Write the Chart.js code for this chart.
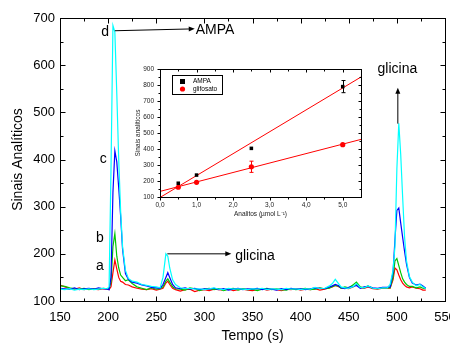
<!DOCTYPE html>
<html lang="pt">
<head>
<meta charset="UTF-8">
<title>Sinais Analíticos x Tempo</title>
<script src="https://cdn.jsdelivr.net/npm/chart.js@4"></script>
<style>
body { margin: 0; background: #fff; }
#wrap { position: relative; width: 450px; height: 343px; }
#main { position: absolute; left: 0; top: 0; }
#inset { position: absolute; left: 130px; top: 60px; }
</style>
</head>
<body>
<div id="wrap">
    <canvas id="main" width="450" height="343"></canvas>
    <canvas id="inset" width="240" height="162"></canvas>
</div>
<script>
// ---- dados do eletroferograma ----
const tempo = [150,155,160,165,170,175,180,185,190,195,
    199,201,203,205,207,209,211,213,215,218,
    221,225,230,235,240,245,250,254,257,260,
    262,264,267,270,275,280,285,290,295,300,
    305,310,315,320,325,330,335,340,345,350,
    355,360,365,370,375,380,385,390,395,400,
    405,410,415,420,425,430,433,436,439,442,
    446,450,455,458,462,466,470,475,480,485,
    490,493,496,498,500,502,504,506,508,510,
    513,516,520,524,527,530];

const sinalA = [134,130,127,125,128,124,126,125,124,126,
    125,124,130,160,187,168,150,142,140,135,
    134,130,127,125,124,126,123,125,127,138,
    142,135,127,124,121,124,125,120,123,124,
    122,125,124,123,126,122,124,125,123,122,
    124,126,123,125,124,122,125,124,126,123,
    125,124,126,123,125,128,130,133,131,128,
    127,126,130,135,128,127,130,126,125,127,
    127,127,145,170,166,155,145,138,133,130,
    128,130,127,126,123,123];

const sinalB = [132,131,128,126,125,127,124,126,125,127,
    126,126,140,215,243,195,170,155,150,143,
    145,137,130,127,124,128,125,126,130,142,
    147,140,130,126,125,123,128,126,122,125,
    127,124,126,122,125,127,123,126,124,125,
    122,125,127,124,126,124,123,126,124,125,
    127,124,125,128,126,127,131,133,132,127,
    130,128,135,140,130,128,132,127,126,128,
    128,128,150,185,190,175,160,147,140,135,
    131,131,128,130,127,126];

const sinalC = [127,126,125,128,124,126,127,125,128,126,
    125,124,150,330,418,395,340,280,210,158,
    146,140,138,134,132,129,128,127,135,150,
    160,150,135,128,126,128,125,127,124,126,
    125,127,124,126,123,125,127,124,126,125,
    127,124,126,125,123,126,124,127,125,126,
    124,126,128,127,126,130,132,135,133,128,
    126,129,131,133,127,130,131,128,127,129,
    129,130,160,230,292,297,265,235,205,178,
    150,138,134,136,132,127];

const sinalD = [125,124,126,123,125,124,126,124,125,127,
    126,130,380,684,670,540,400,290,215,165,
    148,142,140,135,133,131,130,128,150,200,
    195,170,145,135,128,126,127,125,126,124,
    126,128,125,124,127,125,126,125,124,126,
    125,127,124,126,125,124,127,125,126,124,
    126,125,129,126,127,132,137,146,138,130,
    128,127,131,137,129,128,132,127,126,128,
    128,135,165,215,380,477,410,320,235,185,
    152,140,132,135,130,126];

// letras das curvas e setas (em coordenadas de dados)
const letras = [
    { t: 'd', x: 197, y: 670 },
    { t: 'c', x: 195, y: 400 },
    { t: 'b', x: 191.5, y: 233 },
    { t: 'a', x: 191.5, y: 173 }
];
const setas = [
    { x1: 207, y1: 673, x2: 290, y2: 677 },
    { x1: 261.5, y1: 200, x2: 328, y2: 200 },
    { x1: 501, y1: 476, x2: 501, y2: 552 }
];
const rotulos = [
    { t: 'AMPA', x: 291, y: 675, align: 'left' },
    { t: 'glicina', x: 332, y: 196, align: 'left' },
    { t: 'glicina', x: 500.5, y: 592, align: 'center' }
];

// ---- dados da curva analítica (inserto) ----
const conc = [0.5, 1.0, 2.5, 5.0];
const ampa = [186, 237, 404, 790];
const ampaErro = [0, 0, 0, 38];
const glifosato = [161, 192, 289, 427];
const glifosatoErro = [0, 0, 35, 0];
const ajusteX = [0, 5.5];
const ajusteAmpa = [97, 850];
const ajusteGlif = [135, 460];

const FONT = "'Liberation Sans', Arial, sans-serif";
Chart.defaults.font.family = FONT;
Chart.defaults.color = '#000';

const pts = (xs, ys) => xs.map((v, i) => ({ x: v, y: ys[i] }));

// moldura com marcas de escala (maiores e menores)
const frameTicks = {
    id: 'frameTicks',
    afterDraw(chart, args, o) {
        const { ctx, chartArea: a, scales: { x, y } } = chart;
        const marks = vals => {
            const out = [];
            vals.forEach((v, i) => {
                out.push([v, o.major]);
                if (i < vals.length - 1) out.push([(v + vals[i + 1]) / 2, o.minor]);
            });
            return out;
        };
        const s = o.out ? 1 : -1;
        ctx.save();
        ctx.strokeStyle = '#000';
        ctx.lineWidth = 1;
        ctx.strokeRect(a.left + 0.5, a.top + 0.5, a.right - a.left, a.bottom - a.top);
        ctx.beginPath();
        marks(x.ticks.map(t => t.value)).forEach(([v, len]) => {
            const p = Math.round(x.getPixelForValue(v)) + 0.5;
            ctx.moveTo(p, a.bottom + 0.5); ctx.lineTo(p, a.bottom + 0.5 + s * len);
            ctx.moveTo(p, a.top + 0.5); ctx.lineTo(p, a.top + 0.5 + len);
        });
        marks(y.ticks.map(t => t.value)).forEach(([v, len]) => {
            const p = Math.round(y.getPixelForValue(v)) + 0.5;
            ctx.moveTo(a.left + 0.5, p); ctx.lineTo(a.left + 0.5 - s * len, p);
            ctx.moveTo(a.right + 0.5, p); ctx.lineTo(a.right + 0.5 - len, p);
        });
        ctx.stroke();
        ctx.restore();
    }
};

function seta(ctx, x1, y1, x2, y2) {
    const ang = Math.atan2(y2 - y1, x2 - x1);
    ctx.beginPath();
    ctx.moveTo(x1, y1);
    ctx.lineTo(x2 - 5 * Math.cos(ang), y2 - 5 * Math.sin(ang));
    ctx.stroke();
    ctx.beginPath();
    ctx.moveTo(x2, y2);
    ctx.lineTo(x2 - 6 * Math.cos(ang) + 2.5 * Math.sin(ang), y2 - 6 * Math.sin(ang) - 2.5 * Math.cos(ang));
    ctx.lineTo(x2 - 6 * Math.cos(ang) - 2.5 * Math.sin(ang), y2 - 6 * Math.sin(ang) + 2.5 * Math.cos(ang));
    ctx.closePath();
    ctx.fill();
}

const anotacoes = {
    id: 'anotacoes',
    afterDatasetsDraw(chart) {
        const { ctx, scales: { x, y } } = chart;
        ctx.save();
        ctx.fillStyle = '#000';
        ctx.strokeStyle = '#000';
        ctx.lineWidth = 1;
        ctx.font = '14px ' + FONT;
        ctx.textBaseline = 'middle';
        ctx.textAlign = 'center';
        letras.forEach(l => ctx.fillText(l.t, x.getPixelForValue(l.x), y.getPixelForValue(l.y)));
        setas.forEach(s => seta(ctx, x.getPixelForValue(s.x1), y.getPixelForValue(s.y1),
            x.getPixelForValue(s.x2), y.getPixelForValue(s.y2)));
        rotulos.forEach(r => {
            ctx.textAlign = r.align;
            ctx.fillText(r.t, x.getPixelForValue(r.x), y.getPixelForValue(r.y));
        });
        ctx.restore();
    }
};

function serie(label, data, cor) {
    return {
        label: label,
        data: pts(tempo, data),
        borderColor: cor,
        borderWidth: 1.2,
        pointRadius: 0,
        tension: 0
    };
}

new Chart(document.getElementById('main'), {
    type: 'line',
    data: {
        datasets: [
            serie('d', sinalD, '#00ffff'),
            serie('c', sinalC, '#0000ff'),
            serie('b', sinalB, '#00c800'),
            serie('a', sinalA, '#ff0000')
        ]
    },
    options: {
        responsive: false,
        animation: false,
        devicePixelRatio: 1,
        layout: { padding: { top: 18, right: 5, left: 0, bottom: 0 } },
        plugins: { legend: { display: false }, tooltip: { enabled: false }, frameTicks: { out: false, major: 5, minor: 3 } },
        scales: {
            x: {
                type: 'linear', min: 150, max: 550,
                grid: { display: false, drawTicks: false },
                border: { display: false },
                ticks: { stepSize: 50, padding: 9, font: { size: 13 }, maxRotation: 0 },
                title: { display: true, text: 'Tempo (s)', font: { size: 14 }, padding: { top: 0, bottom: -2 } },
                afterFit: s => { s.height = 42; s.paddingLeft = 0; s.paddingRight = 0; }
            },
            y: {
                min: 100, max: 700,
                grid: { display: false, drawTicks: false },
                border: { display: false },
                ticks: { stepSize: 100, padding: 5, font: { size: 13 } },
                title: { display: true, text: 'Sinais Analíticos', font: { size: 14 }, padding: { top: 10, bottom: 0 } },
                afterFit: s => { s.width = 60; s.paddingTop = 0; s.paddingBottom = 0; }
            }
        }
    },
    plugins: [anotacoes, frameTicks]
});

// ---- inserto ----
const barrasErro = {
    id: 'barrasErro',
    afterDatasetsDraw(chart) {
        const { ctx, scales: { x, y } } = chart;
        ctx.save();
        ctx.lineWidth = 1;
        chart.data.datasets.forEach(ds => {
            if (!ds.erro) return;
            ctx.strokeStyle = ds.backgroundColor;
            ds.data.forEach((p, i) => {
                const e = ds.erro[i];
                if (!e) return;
                const px = Math.round(x.getPixelForValue(p.x)) + 0.5;
                const y1 = y.getPixelForValue(p.y + e), y2 = y.getPixelForValue(p.y - e);
                ctx.beginPath();
                ctx.moveTo(px, y1); ctx.lineTo(px, y2);
                ctx.moveTo(px - 2, y1); ctx.lineTo(px + 2, y1);
                ctx.moveTo(px - 2, y2); ctx.lineTo(px + 2, y2);
                ctx.stroke();
            });
        });
        ctx.restore();
    }
};

const legendaInserto = {
    id: 'legendaInserto',
    afterDraw(chart) {
        const { ctx, chartArea: a } = chart;
        const bx = Math.round(a.left + 12), by = Math.round(a.top + 6);
        ctx.save();
        ctx.fillStyle = '#fff';
        ctx.fillRect(bx, by, 50, 19);
        ctx.strokeStyle = '#000';
        ctx.lineWidth = 1;
        ctx.strokeRect(bx + 0.5, by + 0.5, 50, 19);
        ctx.font = '6.5px ' + FONT;
        ctx.textBaseline = 'middle';
        chart.data.datasets.filter(d => d.erro).forEach((d, i) => {
            const cy = by + 6.5 + i * 7.5;
            ctx.fillStyle = d.backgroundColor;
            if (d.pointStyle === 'rect') ctx.fillRect(bx + 8, cy - 2.5, 5, 5);
            else { ctx.beginPath(); ctx.arc(bx + 10.5, cy, 2.6, 0, Math.PI * 2); ctx.fill(); }
            ctx.fillStyle = '#000';
            ctx.fillText(d.label, bx + 21, cy);
        });
        ctx.restore();
    }
};

new Chart(document.getElementById('inset'), {
    type: 'scatter',
    data: {
        datasets: [
            { label: 'AMPA', data: pts(conc, ampa), erro: ampaErro, pointStyle: 'rect', pointRadius: 2.5,
              backgroundColor: '#000', borderColor: '#000', borderWidth: 0 },
            { label: 'glifosato', data: pts(conc, glifosato), erro: glifosatoErro, pointStyle: 'circle', pointRadius: 2.6,
              backgroundColor: '#ff0000', borderColor: '#ff0000', borderWidth: 0 },
            { label: 'ajuste AMPA', data: pts(ajusteX, ajusteAmpa), showLine: true, pointRadius: 0,
              borderColor: '#ff0000', borderWidth: 1 },
            { label: 'ajuste glifosato', data: pts(ajusteX, ajusteGlif), showLine: true, pointRadius: 0,
              borderColor: '#ff0000', borderWidth: 1 }
        ]
    },
    options: {
        responsive: false,
        animation: false,
        devicePixelRatio: 1,
        layout: { padding: { top: 9, right: 9, left: 0, bottom: 0 } },
        plugins: { legend: { display: false }, tooltip: { enabled: false }, frameTicks: { out: true, major: 3, minor: 2 } },
        scales: {
            x: {
                type: 'linear', min: 0, max: 5.5,
                grid: { display: false, drawTicks: false },
                border: { display: false },
                ticks: { stepSize: 1, includeBounds: false, padding: 4, font: { size: 6.5 }, color: '#222', maxRotation: 0,
                         callback: v => v.toFixed(1).replace('.', ',') },
                title: { display: true, text: 'Analitos (µmol L⁻¹)', font: { size: 6.5 }, color: '#222', padding: { top: 0, bottom: 4 } },
                afterFit: s => { s.height = 25; s.paddingLeft = 0; s.paddingRight = 0; }
            },
            y: {
                min: 100, max: 900,
                grid: { display: false, drawTicks: false },
                border: { display: false },
                ticks: { stepSize: 100, padding: 6, font: { size: 6.5 }, color: '#222' },
                title: { display: true, text: 'Sinais analíticos', font: { size: 6.5 }, color: '#222', padding: { top: 4, bottom: 0 } },
                afterFit: s => { s.width = 30; s.paddingTop = 0; s.paddingBottom = 0; }
            }
        }
    },
    plugins: [barrasErro, legendaInserto, frameTicks]
});
</script>
</body>
</html>
